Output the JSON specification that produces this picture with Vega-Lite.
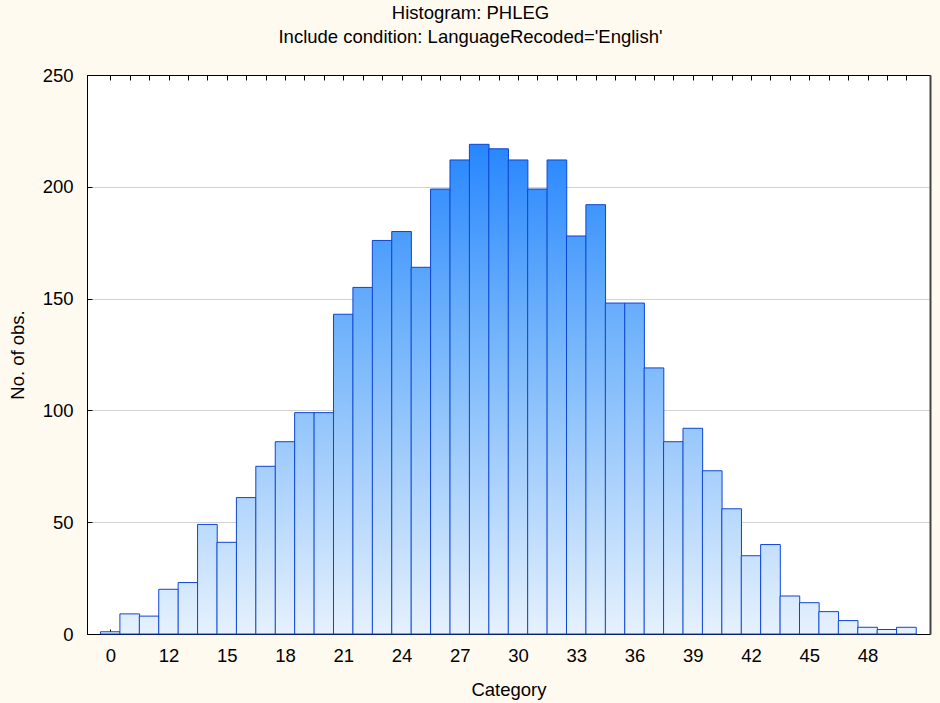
{
  "$schema": "https://vega.github.io/schema/vega-lite/v6.json",
  "width": 843,
  "height": 559,
  "autosize": {"type": "none"},
  "padding": {"left": 87, "top": 75, "right": 10, "bottom": 69},
  "background": "#fffaf0",
  "title": {
    "text": "Histogram: PHLEG",
    "subtitle": "Include condition: LanguageRecoded='English'",
    "anchor": "middle",
    "dx": -38,
    "offset": 20,
    "subtitlePadding": 5,
    "font": "Liberation Sans",
    "subtitleFont": "Liberation Sans",
    "fontSize": 18.5,
    "subtitleFontSize": 18.5,
    "fontWeight": "normal",
    "color": "#000",
    "subtitleColor": "#000"
  },
  "config": {
    "view": {"stroke": "#000", "strokeWidth": 1, "fill": "#ffffff"},
    "axis": {
      "labelFont": "Liberation Sans",
      "titleFont": "Liberation Sans",
      "labelFontSize": 18.5,
      "titleFontSize": 18.5,
      "titleFontWeight": "normal",
      "labelColor": "#000",
      "titleColor": "#000",
      "domainColor": "#000",
      "tickColor": "#000"
    }
  },
  "data": {
    "values": [
      {"category": 9, "count": 1},
      {"category": 10, "count": 9},
      {"category": 11, "count": 8},
      {"category": 12, "count": 20},
      {"category": 13, "count": 23},
      {"category": 14, "count": 49},
      {"category": 15, "count": 41},
      {"category": 16, "count": 61},
      {"category": 17, "count": 75},
      {"category": 18, "count": 86},
      {"category": 19, "count": 99},
      {"category": 20, "count": 99},
      {"category": 21, "count": 143},
      {"category": 22, "count": 155},
      {"category": 23, "count": 176},
      {"category": 24, "count": 180},
      {"category": 25, "count": 164},
      {"category": 26, "count": 199},
      {"category": 27, "count": 212},
      {"category": 28, "count": 219},
      {"category": 29, "count": 217},
      {"category": 30, "count": 212},
      {"category": 31, "count": 199},
      {"category": 32, "count": 212},
      {"category": 33, "count": 178},
      {"category": 34, "count": 192},
      {"category": 35, "count": 148},
      {"category": 36, "count": 148},
      {"category": 37, "count": 119},
      {"category": 38, "count": 86},
      {"category": 39, "count": 92},
      {"category": 40, "count": 73},
      {"category": 41, "count": 56},
      {"category": 42, "count": 35},
      {"category": 43, "count": 40},
      {"category": 44, "count": 17},
      {"category": 45, "count": 14},
      {"category": 46, "count": 10},
      {"category": 47, "count": 6},
      {"category": 48, "count": 3},
      {"category": 49, "count": 2},
      {"category": 50, "count": 3}
    ]
  },
  "resolve": {"axis": {"x": "independent", "y": "independent"}},
  "layer": [
    {
      "mark": {
        "type": "bar",
        "width": 19.65,
        "stroke": "#0d45d4",
        "strokeWidth": 1,
        "fill": {"expr": "{gradient: 'linear', x1: 0, x2: 0, y1: 1 - 250 / datum.count, y2: 1, stops: [{offset: 0, color: '#0c76ff'}, {offset: 0.45, color: '#6fb2fb'}, {offset: 1, color: '#e6f1fd'}]}"}
      },
      "encoding": {
        "x": {
          "field": "category",
          "type": "quantitative",
          "scale": {"domain": [8.057, 50.958], "nice": false, "zero": false},
          "axis": {
            "orient": "bottom",
            "title": "Category",
            "values": [9,10,11,12,13,14,15,16,17,18,19,20,21,22,23,24,25,26,27,28,29,30,31,32,33,34,35,36,37,38,39,40,41,42,43,44,45,46,47,48,49,50],
            "labelExpr": "datum.value == 9 ? '0' : (datum.value % 3 == 0 ? '' + datum.value : '')",
            "labelOverlap": false,
            "labelFlush": false,
            "tickSize": -5,
            "labelPadding": 17,
            "titlePadding": 16,
            "grid": false
          }
        },
        "y": {
          "field": "count",
          "type": "quantitative",
          "scale": {"domain": [0, 250], "nice": false},
          "axis": {
            "title": "No. of obs.",
            "values": [0, 50, 100, 150, 200, 250],
            "grid": true,
            "gridColor": "#d2d2d2",
            "tickSize": -5,
            "labelPadding": 19,
            "titlePadding": 15
          }
        }
      }
    },
    {
      "mark": {"type": "point", "opacity": 0},
      "encoding": {
        "x": {
          "field": "category",
          "type": "quantitative",
          "axis": {
            "orient": "top",
            "title": null,
            "values": [9,10,11,12,13,14,15,16,17,18,19,20,21,22,23,24,25,26,27,28,29,30,31,32,33,34,35,36,37,38,39,40,41,42,43,44,45,46,47,48,49,50],
            "labels": false,
            "tickSize": -5,
            "domain": true,
            "grid": false
          }
        },
        "y": {
          "field": "count",
          "type": "quantitative",
          "axis": {
            "orient": "right",
            "title": null,
            "labels": false,
            "ticks": false,
            "grid": false,
            "domainColor": "#444",
            "domainWidth": 2
          }
        }
      }
    }
  ]
}
